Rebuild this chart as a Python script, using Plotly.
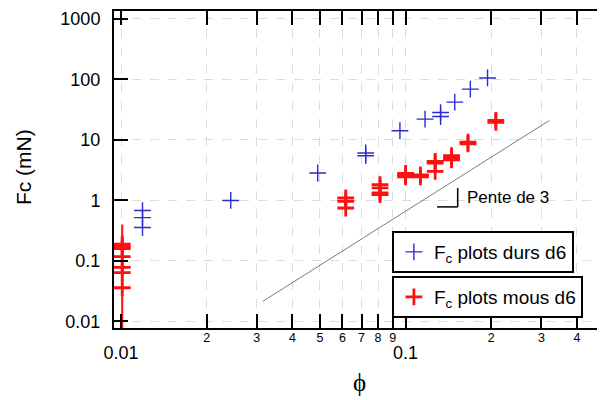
import plotly.graph_objects as go

# ---- data ----
durs_x = [0.0119, 0.0119, 0.0119, 0.0243, 0.0491, 0.0724, 0.0724, 0.0955,
          0.117, 0.1327, 0.1327, 0.1488, 0.1688, 0.194]
durs_y = [0.68, 0.52, 0.356, 1.0, 2.84, 6.08, 5.49, 14.2,
          22.1, 28.4, 24.4, 42.2, 69.2, 106]

mous_x = [0.0101] * 7 + [0.0616] * 3 + [0.0813] * 4 + [0.100] * 3 + [0.1127] * 2 + \
         [0.127] * 3 + [0.145] * 3 + [0.1656] * 2 + [0.2075] * 2
mous_y = [0.19, 0.173, 0.16, 0.118, 0.078, 0.064, 0.036,
          1.10, 0.97, 0.75,
          1.82, 1.61, 1.33, 1.25,
          2.8, 2.6, 2.45,
          2.65, 2.45,
          4.42, 4.16, 3.02,
          5.5, 5.0, 4.7,
          9.2, 8.6,
          21.0, 19.5]

# error bar of the low-phi soft points
mous_err_x = [0.0101, 0.0101]
mous_err_y = [0.40, 0.005]

# slope-3 guide line
slope_x = [0.0315, 0.32]
slope_y = [0.0215, 21.0]

x_major = [0.01, 0.1]
x_major_text = ["0.01", "0.1"]
x_minor = [0.02, 0.03, 0.04, 0.05, 0.06, 0.07, 0.08, 0.09, 0.2, 0.3, 0.4, 0.5]
x_minor_text = ["2", "3", "4", "5", "6", "7", "8", "9", "2", "3", "4", "5"]
y_ticks = [0.01, 0.1, 1, 10, 100, 1000]
y_ticks_text = ["0.01", "0.1", "1", "10", "100", "1000"]

x_title = "ϕ"
y_title = "Fc (mN)"

FONT = "Arial, Liberation Sans, sans-serif"
BLUE = "#2b2bd0"
RED = "#ff1010"
GRID = "#dcdcdc"

fig = go.Figure()

fig.add_trace(go.Scatter(x=slope_x, y=slope_y, mode="lines",
                         line=dict(color="#7a7a7a", width=1), showlegend=False,
                         hoverinfo="skip"))
fig.add_trace(go.Scatter(x=mous_err_x, y=mous_err_y, mode="lines",
                         line=dict(color=RED, width=2), showlegend=False,
                         hoverinfo="skip"))
fig.add_trace(go.Scatter(x=durs_x, y=durs_y, mode="markers",
                         name="F<sub>c</sub> plots durs d6",
                         marker=dict(symbol="cross-thin", size=12,
                                     line=dict(color=BLUE, width=1.4)),
                         legend="legend"))
fig.add_trace(go.Scatter(x=mous_x, y=mous_y, mode="markers",
                         name="F<sub>c</sub> plots mous d6",
                         marker=dict(symbol="cross-thin", size=12,
                                     line=dict(color=RED, width=2.8)),
                         legend="legend2"))
# helper traces so the overlay axes are drawn
fig.add_trace(go.Scatter(x=[None], y=[None], xaxis="x2", showlegend=False))
fig.add_trace(go.Scatter(x=[None], y=[None], yaxis="y2", showlegend=False))

xr = [-2.0246, -0.2995]
yr = [-2.109, 3.132]

# page body has an 8px margin; size and margins compensate for it
fig.update_layout(
    width=597, height=392,
    margin=dict(l=106, r=0, t=3, b=72),
    paper_bgcolor="white", plot_bgcolor="white",
    font=dict(family=FONT, size=18, color="black"),
    xaxis=dict(type="log", range=xr, tickmode="array", tickvals=x_major,
               ticktext=x_major_text, ticks="inside", ticklen=14, tickwidth=1.5,
               tickcolor="black", showline=True, linewidth=2, linecolor="black",
               mirror="allticks", showgrid=True, gridcolor=GRID, griddash="dash",
               gridwidth=1, zeroline=False, tickfont=dict(size=18),
               ticklabelstandoff=7,
               minor=dict(tickmode="array", tickvals=x_minor, ticks="inside",
                          ticklen=7, tickwidth=1.5, tickcolor="black",
                          showgrid=True, gridcolor=GRID, griddash="dash",
                          gridwidth=1)),
    xaxis2=dict(type="log", range=xr, overlaying="x", side="bottom", anchor="y",
                tickmode="array", tickvals=x_minor, ticktext=x_minor_text,
                ticks="", showline=False, showgrid=False, zeroline=False,
                tickfont=dict(size=12.5), ticklabelstandoff=0),
    yaxis=dict(type="log", range=yr, tickmode="array", tickvals=y_ticks,
               ticktext=y_ticks_text, ticks="inside", ticklen=14, tickwidth=1.5,
               tickcolor="black", showline=True, linewidth=2, linecolor="black",
               mirror=False, showgrid=True, gridcolor=GRID, griddash="dash",
               gridwidth=1, zeroline=False, tickfont=dict(size=18),
               ticklabelstandoff=8),
    yaxis2=dict(type="log", range=yr, overlaying="y", side="right", anchor="x",
                tickmode="array", tickvals=y_ticks, ticks="inside", ticklen=7,
                tickwidth=1.5, tickcolor="black", showticklabels=False,
                showline=False, showgrid=False, zeroline=False),
    legend=dict(x=0.566, y=0.306, xanchor="left", yanchor="top",
                bordercolor="black", borderwidth=2, bgcolor="white",
                font=dict(size=19), itemwidth=30, tracegroupgap=0),
    legend2=dict(x=0.566, y=0.164, xanchor="left", yanchor="top",
                 bordercolor="black", borderwidth=2, bgcolor="white",
                 font=dict(size=19), itemwidth=30, tracegroupgap=0),
    showlegend=True,
)

# axis titles
fig.add_annotation(text=y_title, xref="paper", yref="paper", x=-0.183, y=0.508,
                   xanchor="center", yanchor="middle", textangle=-90,
                   showarrow=False, font=dict(size=21))
fig.add_annotation(text=x_title, xref="paper", yref="paper", x=0.501, y=-0.173,
                   xanchor="center", yanchor="middle", showarrow=False,
                   font=dict(family="Liberation Serif, Times New Roman, serif", size=25))

# slope indicator
fig.add_shape(type="line", xref="paper", yref="paper", x0=0.658, x1=0.700,
              y0=0.382, y1=0.382, line=dict(color="black", width=1.5))
fig.add_shape(type="line", xref="paper", yref="paper", x0=0.700, x1=0.700,
              y0=0.382, y1=0.442, line=dict(color="black", width=1.5))
fig.add_annotation(text="Pente de 3", xref="paper", yref="paper", x=0.714, y=0.413,
                   xanchor="left", yanchor="middle", showarrow=False,
                   font=dict(size=17))

fig.write_html("out.html")
